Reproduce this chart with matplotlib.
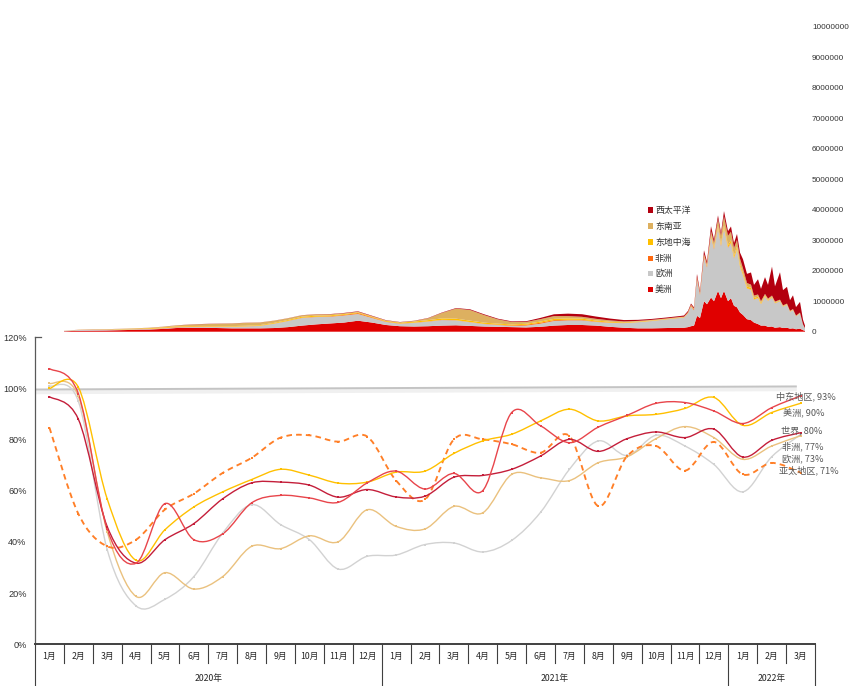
import numpy as np
import pandas as pd
import matplotlib
matplotlib.use("Agg")
import matplotlib.pyplot as plt
from matplotlib.path import Path
from matplotlib.patches import PathPatch, Rectangle
import matplotlib.transforms as mtransforms

plt.rcParams['font.family'] = ['Liberation Sans', 'Noto Sans CJK SC', 'DejaVu Sans']
CJK = ['Noto Sans CJK SC', 'DejaVu Sans']

# ---------------- data: daily new cases by WHO region (millions) ----------------
area_start = "2020-01-16"
area_day = [64, 78, 92, 106, 120, 134, 148, 162, 176, 190, 204, 218, 232, 246, 260, 274, 288,
            302, 316, 330, 344, 358, 372, 386, 400, 414, 428, 442, 456, 470, 484, 498, 512,
            526, 540, 554, 568, 582, 596, 610, 624, 638, 652, 666, 680,
            684, 688, 691, 694, 697, 700, 704, 707, 711, 714, 718, 721, 724, 728, 731, 734,
            737, 740, 743, 747, 751, 754, 758, 761, 765, 768, 772, 775, 780, 783, 787, 790,
            793, 796, 800, 803, 805]

americas = [0.015, 0.03, 0.035, 0.04, 0.05, 0.06, 0.07, 0.09, 0.12, 0.13, 0.13, 0.12, 0.11, 0.11,
            0.11, 0.12, 0.15, 0.2, 0.24, 0.27, 0.3, 0.36, 0.3, 0.22, 0.18, 0.17, 0.18, 0.2, 0.21,
            0.19, 0.17, 0.16, 0.15, 0.14, 0.16, 0.2, 0.22, 0.22, 0.2, 0.16, 0.13, 0.11, 0.11, 0.12,
            0.13,
            0.13, 0.15, 0.18, 0.2, 0.52, 0.45, 1.0, 0.9, 1.12, 1.0, 1.34, 1.1, 1.34, 1.0, 1.1, 0.85,
            0.8, 0.63, 0.55, 0.41, 0.38, 0.3, 0.25, 0.2, 0.2, 0.16, 0.17, 0.13, 0.15, 0.12, 0.13,
            0.1, 0.11, 0.08, 0.1, 0.05, 0.03]
europe = [0.01, 0.025, 0.03, 0.025, 0.02, 0.018, 0.016, 0.017, 0.02, 0.023, 0.03, 0.04, 0.05,
          0.06, 0.08, 0.14, 0.2, 0.25, 0.24, 0.22, 0.23, 0.22, 0.15, 0.1, 0.08, 0.12, 0.15, 0.18,
          0.16, 0.12, 0.08, 0.06, 0.04, 0.06, 0.1, 0.15, 0.15, 0.15, 0.12, 0.13, 0.15, 0.2, 0.24,
          0.28, 0.32,
          0.33, 0.45, 0.65, 0.5, 1.2, 0.75, 1.45, 1.2, 2.0, 1.7, 2.05, 1.7, 2.05, 1.75, 1.8, 1.55,
          1.9, 1.5, 1.3, 1.0, 1.0, 0.75, 0.85, 0.7, 0.95, 0.85, 0.95, 0.8, 0.85, 0.7, 0.75, 0.55,
          0.6, 0.42, 0.5, 0.18, 0.08]
africa = [0.0005, 0.001, 0.002, 0.003, 0.004, 0.005, 0.007, 0.01, 0.014, 0.016, 0.013, 0.01,
          0.008, 0.007, 0.006, 0.006, 0.008, 0.01, 0.012, 0.016, 0.022, 0.03, 0.022, 0.013, 0.01,
          0.009, 0.009, 0.009, 0.008, 0.008, 0.009, 0.012, 0.018, 0.027, 0.032, 0.028, 0.022,
          0.018, 0.014, 0.01, 0.007, 0.006, 0.005, 0.005, 0.008,
          0.01, 0.02, 0.03, 0.035, 0.045, 0.04, 0.045, 0.04, 0.04, 0.035, 0.035, 0.03, 0.03, 0.025,
          0.025, 0.02, 0.02, 0.015, 0.015, 0.012, 0.012, 0.01, 0.01, 0.01, 0.009, 0.009, 0.008,
          0.008, 0.007, 0.007, 0.006, 0.006, 0.005, 0.005, 0.005, 0.003, 0.002]
east_med = [0.002, 0.004, 0.006, 0.008, 0.012, 0.016, 0.02, 0.022, 0.02, 0.017, 0.015, 0.015,
            0.016, 0.018, 0.02, 0.023, 0.027, 0.032, 0.034, 0.03, 0.026, 0.024, 0.022, 0.022,
            0.026, 0.032, 0.04, 0.048, 0.05, 0.045, 0.038, 0.032, 0.03, 0.032, 0.037, 0.043,
            0.045, 0.04, 0.033, 0.026, 0.02, 0.016, 0.014, 0.013, 0.012,
            0.01, 0.01, 0.012, 0.012, 0.015, 0.015, 0.02, 0.025, 0.035, 0.04, 0.05, 0.055, 0.065,
            0.07, 0.075, 0.075, 0.075, 0.07, 0.06, 0.055, 0.05, 0.045, 0.04, 0.035, 0.03, 0.025,
            0.022, 0.02, 0.018, 0.016, 0.015, 0.013, 0.012, 0.01, 0.01, 0.005, 0.003]
se_asia = [0.0005, 0.002, 0.003, 0.005, 0.007, 0.01, 0.014, 0.02, 0.03, 0.045, 0.06, 0.075,
           0.085, 0.095, 0.085, 0.07, 0.055, 0.045, 0.04, 0.033, 0.025, 0.02, 0.016, 0.014, 0.014,
           0.02, 0.06, 0.18, 0.33, 0.35, 0.25, 0.14, 0.08, 0.06, 0.08, 0.09, 0.075, 0.06, 0.055,
           0.045, 0.03, 0.022, 0.02, 0.016, 0.014,
           0.012, 0.012, 0.012, 0.012, 0.013, 0.015, 0.03, 0.05, 0.1, 0.15, 0.22, 0.26, 0.3, 0.3,
           0.28, 0.25, 0.22, 0.18, 0.15, 0.12, 0.1, 0.08, 0.07, 0.06, 0.05, 0.04, 0.035, 0.03,
           0.025, 0.02, 0.02, 0.015, 0.015, 0.012, 0.012, 0.005, 0.003]
w_pacific = [0.001, 0.002, 0.003, 0.002, 0.002, 0.002, 0.002, 0.003, 0.004, 0.006, 0.007, 0.006,
             0.005, 0.005, 0.004, 0.004, 0.004, 0.005, 0.007, 0.009, 0.012, 0.015, 0.014, 0.01,
             0.008, 0.008, 0.01, 0.013, 0.017, 0.022, 0.025, 0.022, 0.02, 0.024, 0.04, 0.06,
             0.08, 0.085, 0.075, 0.06, 0.045, 0.035, 0.03, 0.03, 0.03,
             0.04, 0.04, 0.04, 0.04, 0.1, 0.06, 0.125, 0.08, 0.165, 0.1, 0.12, 0.1, 0.17, 0.15,
             0.17, 0.16, 0.19, 0.2, 0.3, 0.3, 0.4, 0.35, 0.5, 0.4, 0.55, 0.45, 0.95, 0.5, 0.9, 0.5,
             0.55, 0.35, 0.45, 0.28, 0.35, 0.15, 0.08]

area_names = ['美洲', '欧洲', '非洲', '东地中海', '东南亚', '西太平洋']
area_colors = ['#E00000', '#C8C8C8', '#FF6A10', '#FFC000', '#DDB060', '#B3000F']
area_ticks = list(range(0, 10000001, 1000000))

# ---------------- data: monthly index lines (%) ----------------
months = ['1月', '2月', '3月', '4月', '5月', '6月', '7月', '8月', '9月', '10月', '11月', '12月'] * 2 + ['1月', '2月', '3月']
years = ['2020年', '2021年', '2022年']
year_months = [12, 12, 3]

line_names = ['欧洲', '非洲', '亚太地区', '世界', '美洲', '中东地区']
line_colors = ['#D2D2D2', '#EAC17E', '#FF7F27', '#C41E3A', '#FFC000', '#E8454B']
line_labels = ['欧洲, 73%', '非洲, 77%', '亚太地区, 71%', '世界, 80%', '美洲, 90%', '中东地区, 93%']
line_values = [
    [101, 95, 37, 15, 17.6, 26.5, 43.5, 54.6, 46.8, 40.9, 29.4, 34.4, 34.9, 39, 39.6, 36.1, 40.6,
     51.6, 68.4, 79.5, 73.8, 81.7, 77.5, 70.3, 59.6, 73.3, 82],
    [102, 97, 44, 18.7, 28, 21.6, 26.5, 38.3, 37.4, 42.4, 40.1, 52.6, 46.1, 45.1, 53.9, 51.4, 66.4,
     65.1, 64, 71, 73.3, 80.4, 85.1, 80.8, 72.3, 77.5, 81.5],
    [84.7, 51, 38.3, 40.9, 52.7, 58.9, 67, 72.9, 80.8, 81.7, 79.2, 81.2, 64, 56.6, 80.1, 80.1, 78.2,
     74.9, 81.4, 54, 73.6, 77.5, 67.9, 79.1, 66.4, 70.9, 67.1],
    [96.8, 88, 46, 31.7, 40.9, 47.2, 56.9, 63.1, 63.4, 62.2, 57.5, 60.5, 57.6, 57.9, 65.3, 66, 68.4,
     73.6, 80.1, 75.4, 80.4, 83, 80.8, 84.1, 73.2, 79.7, 82.7],
    [100, 100.5, 56.8, 32.8, 44.8, 53.7, 59.6, 64.4, 68.4, 66.1, 63, 63.4, 67.3, 67.7, 74.6, 79.5,
     82.1, 87.3, 91.9, 87.3, 89.3, 89.9, 92.2, 96.5, 85.6, 90.6, 94.2],
    [107.8, 98, 45, 31.7, 55, 40.9, 43.2, 55.3, 58.2, 57.2, 55.5, 63.1, 67.7, 60.7, 66.8, 60.1, 90.6,
     85.4, 78.8, 84.9, 89.5, 94.2, 94.5, 91.2, 86.3, 92.5, 97.1],
]
ref_level = [99.6, 100.8]
y_ticks = [0, 20, 40, 60, 80, 100, 120]

# ---------------- figure ----------------
W, H = 864, 686
fig = plt.figure(figsize=(W / 100, H / 100), dpi=100)

# ---- top stacked area chart ----
ax_top = fig.add_axes([0 / W, (H - 331.7) / H, 805 / W, 305 / H])
t0 = pd.Timestamp(area_start)
dates = t0 + pd.to_timedelta(area_day, unit='D')
series = [np.array(s) * 1e6 for s in [americas, europe, africa, east_med, se_asia, w_pacific]]
ax_top.stackplot(dates, *series, colors=area_colors, linewidth=0)
ax_top.set_xlim(t0, t0 + pd.Timedelta(days=805))
ax_top.set_ylim(0, 1e7)
for sp in ax_top.spines.values():
    sp.set_visible(False)
ax_top.set_xticks([])
ax_top.yaxis.tick_right()
ax_top.set_yticks(area_ticks)
ax_top.set_yticklabels([str(v) for v in area_ticks])
ax_top.tick_params(axis='y', length=0, pad=5, labelsize=5.9, labelcolor='#333333')
ax_top.patch.set_alpha(0)

# legend (top -> bottom: reversed stack order)
leg_y = [210, 226, 242, 258, 273.7, 289.5]
for k, (name, col) in enumerate(zip(area_names[::-1], area_colors[::-1])):
    yp = leg_y[k]
    fig.add_artist(Rectangle((647.5 / W, (H - yp - 2.5) / H), 5 / W, 5 / H,
                             transform=fig.transFigure, facecolor=col, edgecolor='none'))
    fig.text(655 / W, (H - yp) / H, name, fontsize=6.4, color='#333333',
             va='center', ha='left', family=CJK)

# ---- bottom line chart ----
ax = fig.add_axes([35 / W, (H - 644.3) / H, 780 / W, 307 / H])
n = len(months)
ax.set_xlim(-0.5, n - 0.5)
ax.set_ylim(0, 120)
ax.patch.set_alpha(0)
for s in ['top', 'right']:
    ax.spines[s].set_visible(False)
ax.spines['left'].set_color('#595959')
ax.spines['left'].set_linewidth(0.9)
ax.spines['bottom'].set_color('#404040')
ax.spines['bottom'].set_linewidth(1.4)
ax.set_xticks([])
ax.set_yticks(y_ticks)
ax.set_yticklabels([f"{v}%" for v in y_ticks])
ax.tick_params(axis='y', length=0, pad=6, labelsize=6.6, labelcolor='#333333')
ax.plot([-0.5, -0.3], [120, 120], color='#595959', lw=0.9, clip_on=False)

# 100% reference line with soft shadow
xr = [-0.5, 25.87]
ax.plot(xr, [ref_level[0] - 0.9, ref_level[1] - 0.9], color='#F0F0F0', lw=3.5, solid_capstyle='butt', zorder=1)
ax.plot(xr, ref_level, color='#C4C4C4', lw=1.4, solid_capstyle='butt', zorder=1.1)


def smooth_path(xs, ys):
    pts = np.column_stack([xs, ys]).astype(float)
    m = len(pts)
    verts = [pts[0]]
    codes = [Path.MOVETO]
    for i in range(m - 1):
        p0 = pts[i - 1] if i > 0 else pts[i]
        p1 = pts[i]
        p2 = pts[i + 1]
        p3 = pts[i + 2] if i + 2 < m else pts[i + 1]
        c1 = p1 + (p2 - p0) / 6.0
        c2 = p2 - (p3 - p1) / 6.0
        verts += [c1, c2, p2]
        codes += [Path.CURVE4] * 3
    return Path(verts, codes)


xs = np.arange(n)
for name, col, vals in zip(line_names, line_colors, line_values):
    dashed = name == '亚太地区'
    patch = PathPatch(smooth_path(xs, vals), fill=False, edgecolor=col,
                      lw=1.35 if dashed else 1.0, zorder=3,
                      linestyle=(0, (3, 2.2)) if dashed else '-')
    ax.add_patch(patch)
    ax.plot(xs, vals, linestyle='none', marker='s', markersize=1.8,
            color=col, markeredgewidth=0, zorder=4)

# end labels
lab_pos = {'中东地区, 93%': (805.5, 396.7), '美洲, 90%': (803.5, 414), '世界, 80%': (802, 430.7),
           '非洲, 77%': (803, 446), '欧洲, 73%': (803, 459.3), '亚太地区, 71%': (808.5, 470)}
for lab in line_labels:
    px, py = lab_pos[lab]
    fig.text(px / W, (H - py) / H, lab, fontsize=6.6, color='#595959',
             ha='center', va='center', family=CJK, zorder=6)

# category axis: months + years
trans = mtransforms.blended_transform_factory(ax.transData, ax.transAxes)
ax_h = 307.0
y_month_sep = -(663 - 644.3) / ax_h
y_bottom = -(686 - 644.3) / ax_h
y_month_lab = -(656.5 - 644.3) / ax_h
y_year_lab = -(678 - 644.3) / ax_h
year_bounds = np.cumsum([0] + year_months)
for i, mlab in enumerate(months):
    ax.text(i, y_month_lab, mlab, transform=trans, ha='center', va='center',
            fontsize=6.3, color='#262626', family=CJK)
for i in range(1, n):
    if i in year_bounds:
        continue
    ax.plot([i - 0.5, i - 0.5], [0, y_month_sep], transform=trans, color='#404040',
            lw=0.8, clip_on=False)
for b in year_bounds:
    ax.plot([b - 0.5, b - 0.5], [0, y_bottom], transform=trans, color='#404040',
            lw=0.8, clip_on=False)
for k, ylab in enumerate(years):
    c = (year_bounds[k] + year_bounds[k + 1] - 1) / 2.0
    ax.text(c, y_year_lab, ylab, transform=trans, ha='center', va='center',
            fontsize=6.3, color='#262626', family=CJK)

fig.savefig('out.png', dpi=100)
